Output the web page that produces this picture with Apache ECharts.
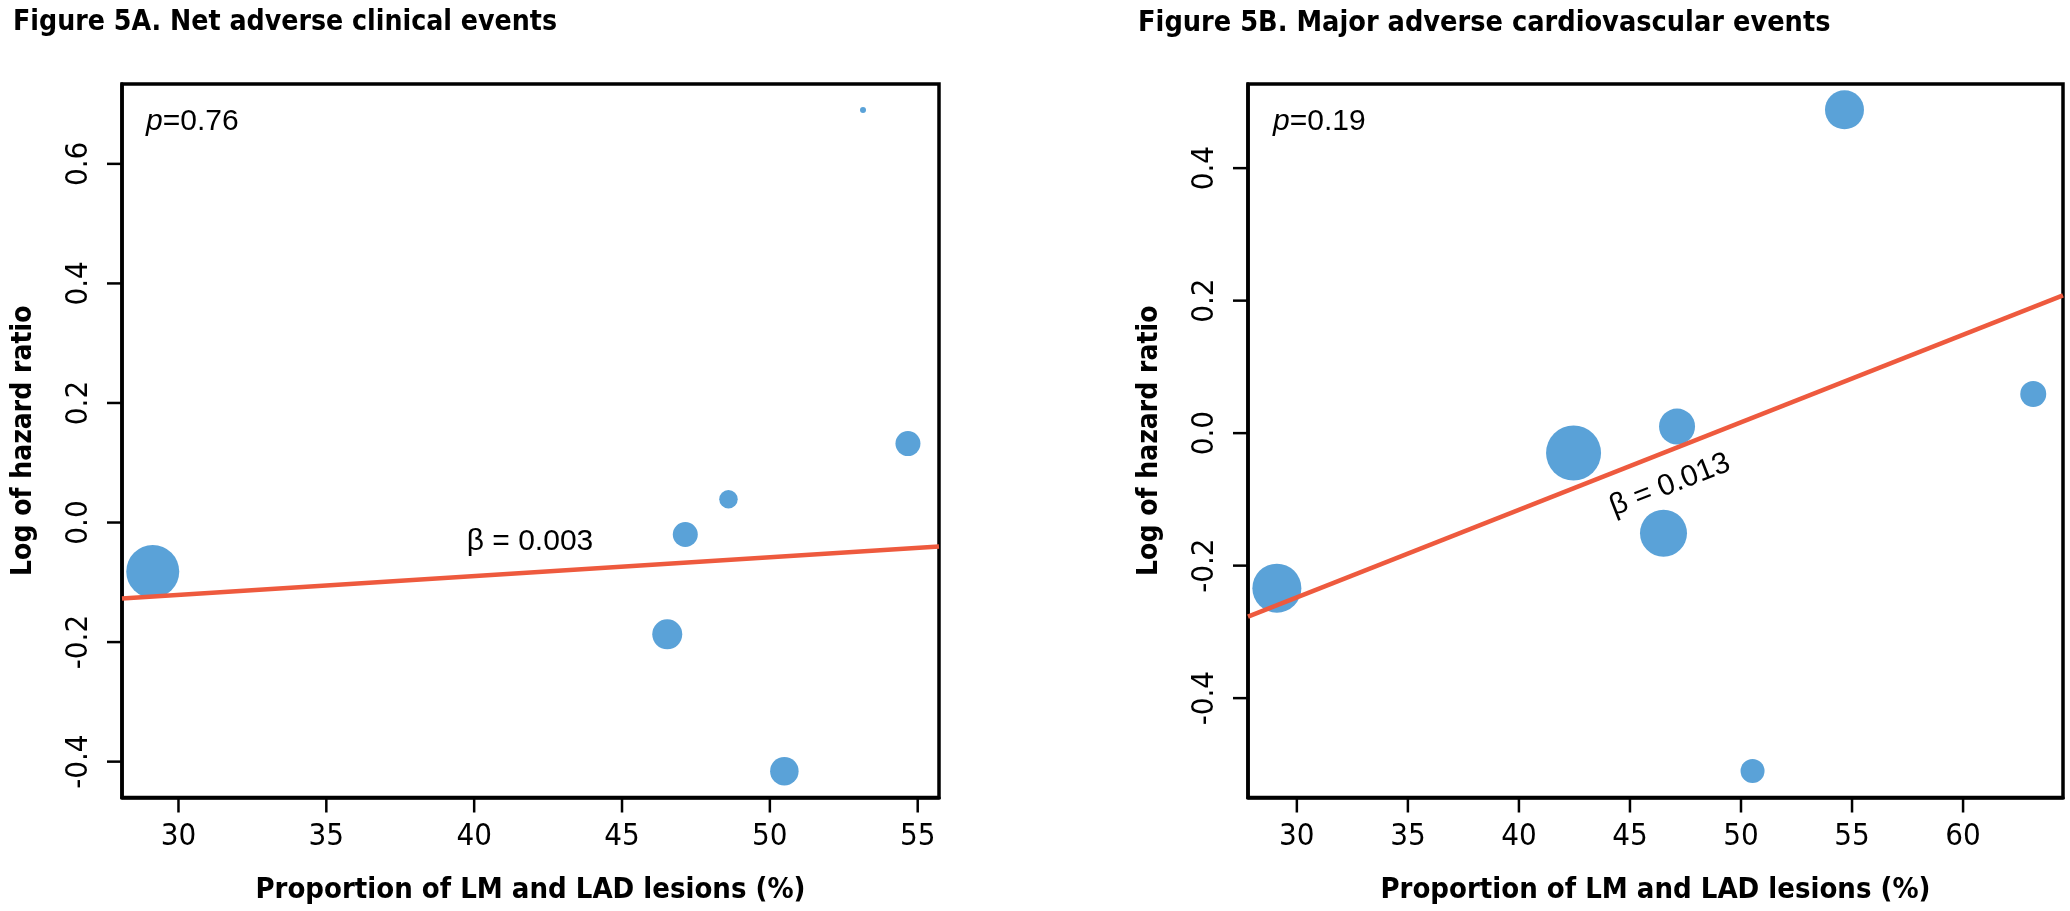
<!DOCTYPE html>
<html>
<head>
<meta charset="utf-8">
<script src="https://cdn.jsdelivr.net/npm/echarts@6/dist/echarts.min.js"></script>
<style>
html,body{margin:0;padding:0;background:#fff;}
#chart{width:2070px;height:911px;}
</style>
</head>
<body>
<div id="chart"></div>
<script>
// ---- data ----
const titleA = 'Figure 5A. Net adverse clinical events';
const titleB = 'Figure 5B. Major adverse cardiovascular events';
const xName = 'Proportion of LM and LAD lesions (%)';
const yName = 'Log of hazard ratio';

// Panel A: proportion (%), log HR, marker diameter (study weight)
const xA = [29.13, 46.53, 47.14, 48.60, 50.49, 53.15, 54.67];
const yA = [-0.082, -0.187, -0.020, 0.039, -0.416, 0.690, 0.132];
const sizeA = [53, 30, 25, 18.5, 28.5, 6, 25];
const fitAx = [28.09, 55.72];
const fitAy = [-0.127, -0.040];
const pA = '0.76';
const betaA = '0.003';

// Panel B
const xB = [29.10, 42.46, 46.51, 47.12, 50.52, 54.66, 63.16];
const yB = [-0.234, -0.030, -0.151, 0.010, -0.510, 0.488, 0.059];
const sizeB = [49, 55, 47, 36, 24, 39, 26];
const fitBx = [27.80, 64.50];
const fitBy = [-0.277, 0.208];
const pB = '0.19';
const betaB = '0.013';

const xTicksA = [30, 35, 40, 45, 50, 55];
const yTicksA = [-0.4, -0.2, 0.0, 0.2, 0.4, 0.6];
const xTicksB = [30, 35, 40, 45, 50, 55, 60];
const yTicksB = [-0.4, -0.2, 0.0, 0.2, 0.4];

const rangeA = {xmin: 28.09, xmax: 55.72, ymin: -0.460, ymax: 0.7336};
const rangeB = {xmin: 27.80, xmax: 64.50, ymin: -0.550, ymax: 0.527};

// ---- styles ----
const PT = '#5AA2D8';
const LN = '#EE5A3E';
const NARROW = '"DejaVu Sans Condensed", "Liberation Sans Narrow", "Liberation Sans", sans-serif';
const SANS = '"Liberation Sans", Arial, sans-serif';
const TICK_LEN = 15;
const TICK_W = 2.5;

function zip3(xs, ys, ss) { return xs.map((x, i) => [x, ys[i], ss[i]]); }
function zip2(xs, ys) { return xs.map((x, i) => [x, ys[i]]); }

function xAxisFor(idx, r, ticks) {
  return {
    type: 'value', gridIndex: idx, min: r.xmin, max: r.xmax, position: 'bottom',
    axisLine: {show: true, onZero: false, lineStyle: {color: '#000', width: 3.5}},
    axisTick: {show: false},
    axisLabel: {show: true, customValues: ticks, margin: 24, color: '#000', fontFamily: NARROW, fontSize: 31,
      formatter: v => String(v)},
    splitLine: {show: false},
    name: xName, nameLocation: 'middle', nameGap: 78,
    nameTextStyle: {fontFamily: NARROW, fontWeight: 'bold', fontSize: 29, color: '#000'}
  };
}
function yAxisFor(idx, r, ticks) {
  return {
    type: 'value', gridIndex: idx, min: r.ymin, max: r.ymax, position: 'left',
    axisLine: {show: true, onZero: false, lineStyle: {color: '#000', width: 3.5}},
    axisTick: {show: false},
    axisLabel: {show: true, customValues: ticks, rotate: 90, margin: 28, color: '#000', fontFamily: NARROW, fontSize: 31,
      formatter: v => v.toFixed(1)},
    splitLine: {show: false},
    name: yName, nameLocation: 'middle', nameGap: 84,
    nameTextStyle: {fontFamily: NARROW, fontWeight: 'bold', fontSize: 28, color: '#000'}
  };
}

const chart = echarts.init(document.getElementById('chart'), null, {renderer: 'canvas'});
const textGraphics = [
  {type: 'text', x: 146, y: 122, style: {text: '{i|p}=' + pA, verticalAlign: 'middle',
    rich: {i: {fontStyle: 'italic', fontFamily: SANS, fontSize: 30, fill: '#000'}},
    font: '30px ' + SANS, fill: '#000'}},
  {type: 'text', x: 1273, y: 122, style: {text: '{i|p}=' + pB, verticalAlign: 'middle',
    rich: {i: {fontStyle: 'italic', fontFamily: SANS, fontSize: 30, fill: '#000'}},
    font: '30px ' + SANS, fill: '#000'}},
  {type: 'text', x: 530, y: 542, style: {text: 'β = ' + betaA, align: 'center', verticalAlign: 'middle',
    font: '30px ' + SANS, fill: '#000'}},
  {type: 'text', x: 1670, y: 485, rotation: 21.4 * Math.PI / 180,
    style: {text: 'β = ' + betaB, align: 'center', verticalAlign: 'middle', font: '30px ' + SANS, fill: '#000'}}
];

chart.setOption({
  backgroundColor: '#fff',
  animation: false,
  title: [
    {text: titleA, left: 8, top: 4, textStyle: {fontFamily: NARROW, fontWeight: 'bold', fontSize: 28.2, color: '#000'}},
    {text: titleB, left: 1133, top: 4, textStyle: {fontFamily: NARROW, fontWeight: 'bold', fontSize: 28.6, color: '#000'}}
  ],
  grid: [
    {left: 122, top: 84, width: 817, height: 713.5, show: true, borderColor: '#000', borderWidth: 3.5, backgroundColor: 'transparent'},
    {left: 1248, top: 84, width: 815, height: 713.5, show: true, borderColor: '#000', borderWidth: 3.5, backgroundColor: 'transparent'}
  ],
  xAxis: [xAxisFor(0, rangeA, xTicksA), xAxisFor(1, rangeB, xTicksB)],
  yAxis: [yAxisFor(0, rangeA, yTicksA), yAxisFor(1, rangeB, yTicksB)],
  series: [
    {type: 'scatter', xAxisIndex: 0, yAxisIndex: 0, data: zip3(xA, yA, sizeA),
      symbol: 'circle', symbolSize: v => v[2], itemStyle: {color: PT, opacity: 1}, z: 2},
    {type: 'line', xAxisIndex: 0, yAxisIndex: 0, data: zip2(fitAx, fitAy), showSymbol: false,
      lineStyle: {color: LN, width: 4.5}, z: 3},
    {type: 'scatter', xAxisIndex: 1, yAxisIndex: 1, data: zip3(xB, yB, sizeB),
      symbol: 'circle', symbolSize: v => v[2], itemStyle: {color: PT, opacity: 1}, z: 2},
    {type: 'line', xAxisIndex: 1, yAxisIndex: 1, data: zip2(fitBx, fitBy), showSymbol: false,
      lineStyle: {color: LN, width: 4.5}, z: 3}
  ],
  graphic: textGraphics
});

// Outward R-style tick marks (thin filled bars), positioned through the chart's own axis scales.
function tickBars(gridIndex, r, xt, yt) {
  const out = [];
  xt.forEach(v => {
    const p = chart.convertToPixel({gridIndex: gridIndex}, [v, r.ymin]);
    out.push({type: 'rect', zlevel: 1, z: 100, silent: true,
      shape: {x: p[0] - TICK_W / 2, y: p[1], width: TICK_W, height: TICK_LEN},
      style: {fill: '#000'}});
  });
  yt.forEach(v => {
    const p = chart.convertToPixel({gridIndex: gridIndex}, [r.xmin, v]);
    out.push({type: 'rect', zlevel: 1, z: 100, silent: true,
      shape: {x: p[0] - TICK_LEN, y: p[1] - TICK_W / 2, width: TICK_LEN, height: TICK_W},
      style: {fill: '#000'}});
  });
  return out;
}
chart.setOption({
  graphic: textGraphics.concat(tickBars(0, rangeA, xTicksA, yTicksA), tickBars(1, rangeB, xTicksB, yTicksB))
});
</script>
</body>
</html>
